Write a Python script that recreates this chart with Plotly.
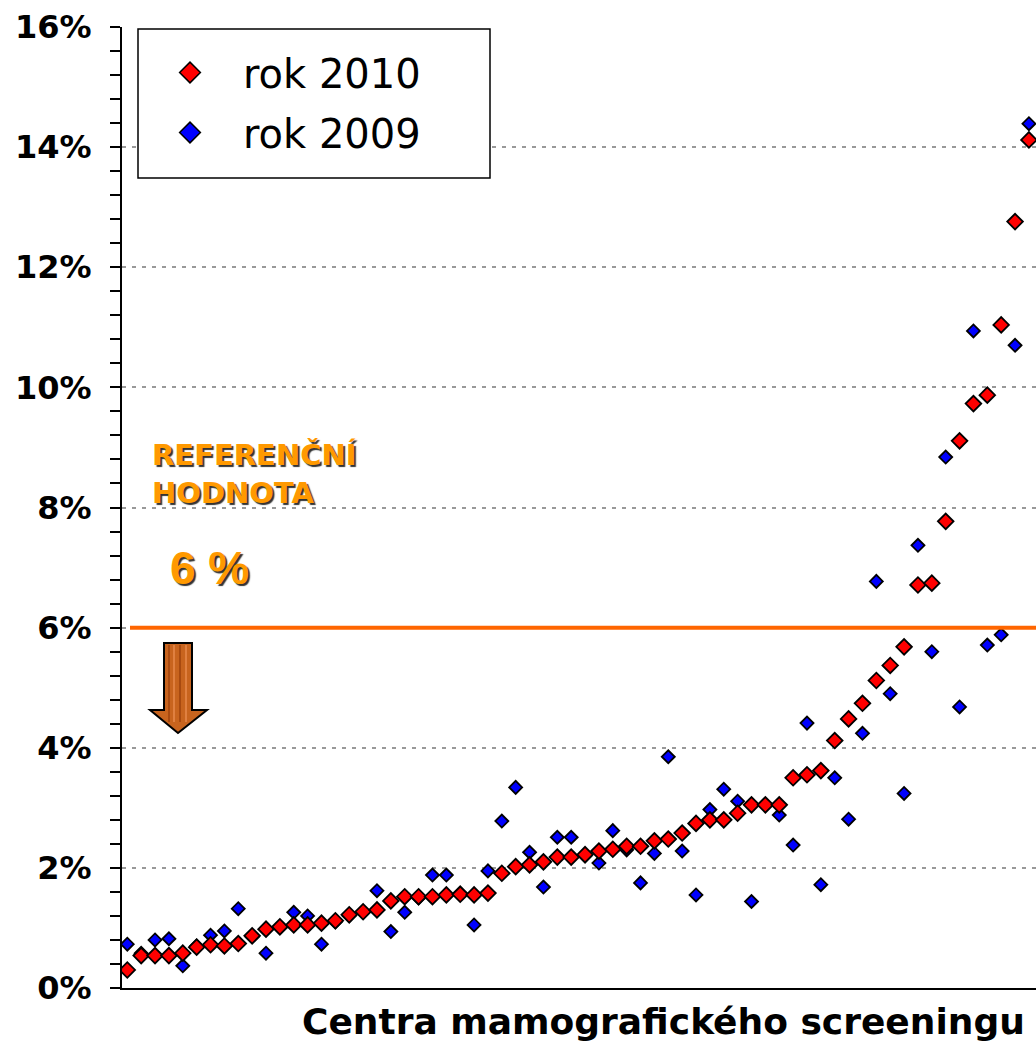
import plotly.graph_objects as go

# ---- data (percent) ----
centers = list(range(1, 67))
rok_2010 = [0.30, 0.54, 0.54, 0.54, 0.58, 0.68, 0.72, 0.70, 0.74, 0.87,
            0.98, 1.02, 1.05, 1.05, 1.08, 1.12, 1.22, 1.27, 1.30, 1.45,
            1.52, 1.52, 1.52, 1.55, 1.56, 1.55, 1.58, 1.91, 2.02, 2.05,
            2.10, 2.18, 2.18, 2.22, 2.28, 2.31, 2.36, 2.36, 2.45, 2.48,
            2.58, 2.74, 2.80, 2.80, 2.91, 3.05, 3.05, 3.05, 3.50, 3.55,
            3.62, 4.12, 4.48, 4.74, 5.12, 5.37, 5.68, 6.71, 6.74, 7.77,
            9.11, 9.73, 9.87, 11.04, 12.76, 14.12]
rok_2009 = [0.73, 0.58, 0.80, 0.82, 0.37, 0.70, 0.88, 0.95, 1.32, 0.85,
            0.58, 1.00, 1.26, 1.20, 0.73, 1.10, 1.20, 1.27, 1.62, 0.94,
            1.26, 1.50, 1.88, 1.88, 1.58, 1.05, 1.95, 2.78, 3.34, 2.26,
            1.68, 2.51, 2.51, 2.20, 2.08, 2.62, 2.30, 1.75, 2.24, 3.85,
            2.28, 1.55, 2.97, 3.31, 3.11, 1.44, 3.05, 2.88, 2.38, 4.41,
            1.72, 3.50, 2.81, 4.24, 6.77, 4.90, 3.24, 7.37, 5.60, 8.84,
            4.68, 10.94, 5.71, 5.88, 10.70, 14.39]
series_names = ["rok 2010", "rok 2009"]
reference_value = 6
tick_vals = [0, 2, 4, 6, 8, 10, 12, 14, 16]
tick_text = ["0%", "2%", "4%", "6%", "8%", "10%", "12%", "14%", "16%"]
x_title = "Centra mamografického screeningu"
ref_label = "REFERENČNÍ<br>HODNOTA"
ref_value_label = "6 %"

W, H = 1036, 1042
L, R, T, B = 122, 0, 27, 54
PW, PH = W - L - R, H - T - B


def px(xp):
    return (xp - L) / PW


def py(yp):
    return (H - B - yp) / PH


fig = go.Figure()

# data traces (blue under red)
fig.add_trace(go.Scatter(
    x=centers, y=rok_2009, mode="markers", showlegend=False,
    marker=dict(symbol="diamond", size=10, color="#0000FF",
                line=dict(color="black", width=1.8))))
fig.add_trace(go.Scatter(
    x=centers, y=rok_2010, mode="markers", showlegend=False,
    marker=dict(symbol="diamond", size=12, color="#FF0000",
                line=dict(color="black", width=1.8))))

# legend entries
fig.add_trace(go.Scatter(
    x=[None], y=[None], mode="markers", name=series_names[0],
    legendgroup="a", legendrank=1,
    marker=dict(symbol="diamond", size=16, color="#FF0000",
                line=dict(color="black", width=1.5))))
fig.add_trace(go.Scatter(
    x=[None], y=[None], mode="markers", name=series_names[1],
    legendgroup="b", legendrank=2,
    marker=dict(symbol="diamond", size=16, color="#0000FF",
                line=dict(color="black", width=1.5))))

shapes = []
# legend box
shapes.append(dict(type="rect", xref="paper", yref="paper",
                   x0=px(138), x1=px(490), y0=py(178), y1=py(29),
                   fillcolor="white", line=dict(color="black", width=1.5),
                   layer="above"))
# reference line at 6 %
shapes.append(dict(type="line", xref="paper", yref="y",
                   x0=px(130), x1=1, y0=reference_value, y1=reference_value,
                   line=dict(color="#FF6600", width=4), layer="above"))
# down arrow
pts = [(164, 643), (192, 643), (192, 710), (207, 710), (178, 733),
       (150, 710), (164, 710)]
path = "M " + " L ".join(f"{px(a):.5f},{py(b):.5f}" for a, b in pts) + " Z"
shapes.append(dict(type="path", xref="paper", yref="paper", path=path,
                   fillcolor="#C8641E", line=dict(color="black", width=2),
                   layer="above"))
# stripes on the arrow shaft
for sx, col in [(169, "#A84A10"), (174, "#E08040"), (180, "#A84A10"),
                (186, "#E08040")]:
    shapes.append(dict(type="line", xref="paper", yref="paper",
                       x0=px(sx), x1=px(sx), y0=py(645), y1=py(722),
                       line=dict(color=col, width=2), layer="above"))

annotations = [
    dict(xref="paper", yref="paper", x=px(150), y=py(474),
         xanchor="left", yanchor="middle", align="left", showarrow=False,
         text=f"<b>{ref_label}</b>",
         font=dict(family="DejaVu Sans", size=29, color="#FF9900",
                   shadow="2px 2px 1px #333333")),
    dict(xref="paper", yref="paper", x=px(168), y=py(568),
         xanchor="left", yanchor="middle", showarrow=False,
         text=f"<b>{ref_value_label}</b>",
         font=dict(family="Liberation Sans, Arial", size=46, color="#FF9900",
                   shadow="2px 2px 1px #333333")),
    dict(xref="paper", yref="paper", x=px(1027), y=py(1021),
         xanchor="right", yanchor="middle", showarrow=False,
         text=f"<b>{x_title}</b>",
         font=dict(family="DejaVu Sans", size=36, color="black")),
]

fig.update_layout(
    width=W, height=H,
    margin=dict(l=L, r=R, t=T, b=B, pad=0, autoexpand=False),
    paper_bgcolor="white", plot_bgcolor="white",
    showlegend=True,
    legend=dict(x=px(137), y=py(40), xanchor="left", yanchor="top",
                bgcolor="rgba(0,0,0,0)", borderwidth=0,
                font=dict(family="DejaVu Sans", size=40, color="black"),
                tracegroupgap=5, itemwidth=96, itemclick=False),
    shapes=shapes,
    annotations=annotations,
    xaxis=dict(range=[0.618, 66.51], showgrid=False, zeroline=False,
               showticklabels=False, ticks="", showline=True,
               linecolor="black", linewidth=2, fixedrange=True),
    yaxis=dict(range=[0, 16], tickvals=tick_vals, ticktext=tick_text,
               showgrid=True, gridcolor="#999999", gridwidth=2,
               griddash="4px,6px", zeroline=False,
               showline=True, linecolor="black", linewidth=2,
               ticks="outside", ticklen=10, tickwidth=2, tickcolor="black",
               ticklabelstandoff=12,
               tickfont=dict(family="DejaVu Sans", size=32, color="black",
                             weight="bold"),
               minor=dict(dtick=0.4, ticks="outside", ticklen=10,
                          tickwidth=2, tickcolor="black", showgrid=False)),
)

fig.write_html(
    "out.html",
    config={"displayModeBar": False},
    post_script="document.body.style.margin='0px';"
                "document.body.style.overflow='hidden';",
)
